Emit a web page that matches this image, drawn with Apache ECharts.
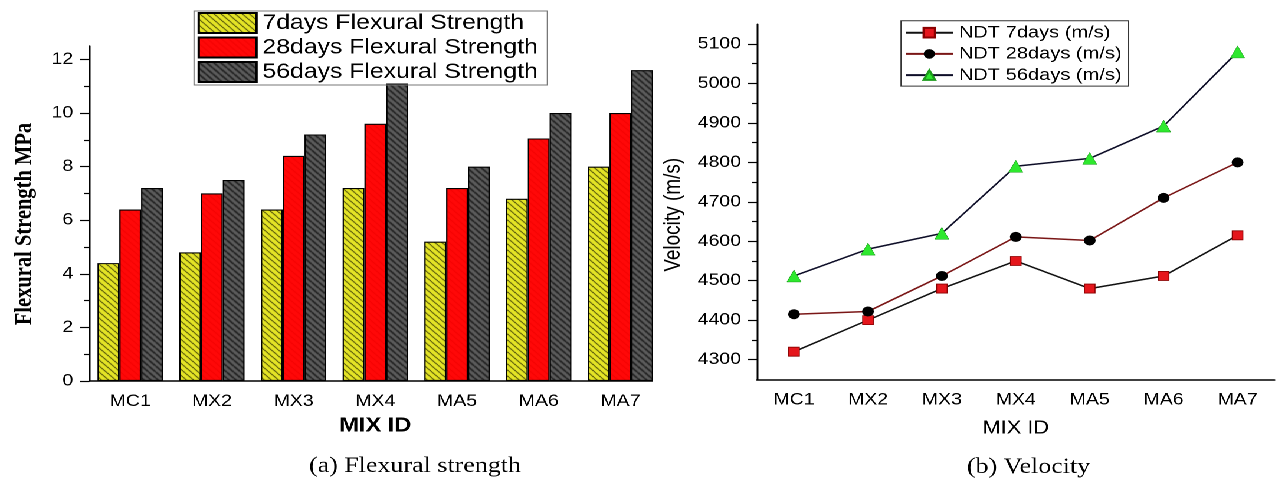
<!DOCTYPE html>
<html>
<head>
<meta charset="utf-8">
<title>Flexural strength and velocity</title>
<script src="https://cdn.jsdelivr.net/npm/echarts@6/dist/echarts.min.js"></script>
<style>
    html, body {
        margin: 0;
        padding: 0;
        background: #fff;
    }
    /* the source figure is stretched sideways, so the whole stage is too */
    #stage {
        position: absolute;
        left: 0;
        top: 0;
        width: 1086.5px;
        height: 483px;
        transform: scaleX(1.18);
        transform-origin: 0 0;
    }
    #leftClip {
        position: absolute;
        left: 0;
        top: 0;
        width: 553.4px;
        height: 483px;
        overflow: hidden;
    }
    #leftChart {
        width: 600px;
        height: 483px;
    }
    #rightChart {
        position: absolute;
        left: 553.4px;
        top: 0;
        width: 533px;
        height: 483px;
    }
</style>
</head>
<body>
<div id="stage">
    <div id="leftClip"><div id="leftChart"></div></div>
    <div id="rightChart"></div>
</div>
<script>
// =====================================
// Data
// =====================================

const mixIds = ["MC1", "MX2", "MX3", "MX4", "MA5", "MA6", "MA7"];

const flex7 = [4.4, 4.8, 6.4, 7.2, 5.2, 6.8, 8.0];
const flex28 = [6.4, 7.0, 8.4, 9.6, 7.2, 9.05, 10.0];
const flex56 = [7.2, 7.5, 9.2, 11.1, 8.0, 10.0, 11.6];

const flexTicks = [0, 2, 4, 6, 8, 10, 12];
const flexMinorTicks = [1, 3, 5, 7, 9, 11];

const ndt7 = [4320, 4400, 4480, 4550, 4480, 4512, 4615];
const ndt28 = [4415, 4422, 4512, 4611, 4602, 4710, 4800];
const ndt56 = [4512, 4580, 4620, 4790, 4810, 4892, 5080];

const velTicks = [4300, 4400, 4500, 4600, 4700, 4800, 4900, 5000, 5100];
const velMinorTicks = [4350, 4450, 4550, 4650, 4750, 4850, 4950, 5050];

// =====================================
// Helpers
// =====================================

const SANS = "'Liberation Sans', Arial, sans-serif";
const SERIF = "'Liberation Serif', 'Times New Roman', serif";

function hatch(bg, line, step, lw) {
    const c = document.createElement("canvas");
    c.width = step;
    c.height = step;
    const g = c.getContext("2d");
    g.fillStyle = bg;
    g.fillRect(0, 0, step, step);
    g.strokeStyle = line;
    g.lineWidth = lw;
    g.beginPath();
    [-step, 0, step].forEach(o => {
        g.moveTo(o, 0);
        g.lineTo(o + step, step);
    });
    g.stroke();
    return { image: c, repeat: "repeat" };
}

const axisBlack = { color: "#000", width: 1.5 };
const tickBlack = { color: "#000", width: 1.2 };
const plainNumber = v => String(v);

// =====================================
// (a) Flexural strength
// =====================================

const leftChart = echarts.init(
    document.getElementById("leftChart"),
    null,
    { devicePixelRatio: 2 }
);

function barSeries(name, data, fill) {
    return {
        name: name,
        type: "bar",
        data: data,
        barGap: "0%",
        barCategoryGap: "20%",
        itemStyle: {
            color: fill,
            borderColor: "#000",
            borderWidth: 1.1
        }
    };
}

leftChart.setOption({
    animation: false,
    grid: { left: 75.7, top: 46, width: 484.7, height: 335 },
    legend: {
        orient: "vertical",
        left: 164.4,
        top: 11,
        padding: [1, 8, 2, 3],
        borderColor: "#777",
        borderWidth: 1,
        icon: "rect",
        itemWidth: 49,
        itemHeight: 20,
        itemGap: 2.5,
        selectedMode: false,
        textStyle: {
            color: "#000",
            fontFamily: SANS,
            fontSize: 21,
            lineHeight: 20
        }
    },
    xAxis: [{
        type: "category",
        data: mixIds,
        axisLine: { lineStyle: axisBlack },
        axisTick: { alignWithLabel: true, length: 8, lineStyle: tickBlack },
        axisLabel: { color: "#000", fontFamily: SANS, fontSize: 16.5, margin: 12 },
        name: "MIX ID",
        nameLocation: "middle",
        nameGap: 35,
        nameTextStyle: { color: "#000", fontFamily: SANS, fontSize: 20, fontWeight: "bold" }
    }, {
        type: "category",
        data: mixIds,
        position: "bottom",
        axisLine: { show: false },
        axisTick: { length: 4.5, lineStyle: tickBlack },
        axisLabel: { show: false }
    }],
    yAxis: [{
        type: "value",
        min: 0,
        max: 12.5,
        splitLine: { show: false },
        axisLine: { show: true, lineStyle: axisBlack },
        axisTick: { show: true, length: 8, lineStyle: tickBlack, customValues: flexTicks },
        axisLabel: {
            color: "#000",
            fontFamily: SANS,
            fontSize: 16.5,
            margin: 13.6,
            customValues: flexTicks,
            formatter: plainNumber
        },
        name: "Flexural Strength MPa",
        nameLocation: "middle",
        nameGap: 44.5,
        nameTextStyle: {
            color: "#000",
            fontFamily: SERIF,
            fontSize: 20.5,
            fontWeight: "bold",
            padding: [0, 21, 0, 0]
        }
    }, {
        type: "value",
        min: 0,
        max: 12.5,
        position: "left",
        splitLine: { show: false },
        axisLine: { show: false },
        axisTick: { show: true, length: 4.5, lineStyle: tickBlack, customValues: flexMinorTicks },
        axisLabel: { show: false }
    }],
    series: [
        barSeries("7days Flexural Strength", flex7, hatch("#e4e426", "#222200", 6, 1.0)),
        barSeries("28days Flexural Strength", flex28, hatch("#ff0808", "#ee0000", 6, 0.8)),
        barSeries("56days Flexural Strength", flex56, hatch("#5c5c5c", "#1a1a1a", 6, 1.4))
    ],
    graphic: [{
        type: "text",
        x: 351.7,
        y: 466,
        style: {
            text: "(a) Flexural strength",
            font: "22px " + SERIF,
            fill: "#000",
            align: "center",
            verticalAlign: "middle"
        }
    }]
});

// =====================================
// (b) Velocity
// =====================================

const rightChart = echarts.init(
    document.getElementById("rightChart"),
    null,
    { devicePixelRatio: 2 }
);

rightChart.setOption({
    animation: false,
    grid: { left: 88.6, top: 24.3, width: 438.5, height: 355 },
    legend: {
        orient: "vertical",
        left: 210.6,
        top: 20.7,
        padding: [3, 6, 2, 3],
        borderColor: "#333",
        borderWidth: 1,
        itemWidth: 40,
        itemHeight: 12,
        itemGap: 3.2,
        selectedMode: false,
        textStyle: {
            color: "#000",
            fontFamily: SANS,
            fontSize: 17,
            lineHeight: 18
        }
    },
    xAxis: [{
        type: "category",
        data: mixIds,
        axisLine: { lineStyle: axisBlack },
        axisTick: { alignWithLabel: true, length: 8, lineStyle: tickBlack },
        axisLabel: { color: "#000", fontFamily: SANS, fontSize: 16.5, margin: 12 },
        name: "MIX ID",
        nameLocation: "middle",
        nameGap: 39.4,
        nameTextStyle: { color: "#000", fontFamily: SANS, fontSize: 18.5 }
    }, {
        type: "category",
        data: mixIds,
        position: "bottom",
        axisLine: { show: false },
        axisTick: { length: 4.5, lineStyle: tickBlack },
        axisLabel: { show: false }
    }],
    yAxis: [{
        type: "value",
        min: 4250,
        max: 5150,
        splitLine: { show: false },
        axisLine: { show: true, lineStyle: axisBlack },
        axisTick: { show: true, length: 8, lineStyle: tickBlack, customValues: velTicks },
        axisLabel: {
            color: "#000",
            fontFamily: SANS,
            fontSize: 16.5,
            margin: 13.6,
            customValues: velTicks,
            formatter: plainNumber
        },
        name: "Velocity (m/s)",
        nameLocation: "middle",
        nameGap: 55,
        nameTextStyle: {
            color: "#000",
            fontFamily: SANS,
            fontSize: 19,
            padding: [0, 26, 0, 0]
        }
    }, {
        type: "value",
        min: 4250,
        max: 5150,
        position: "left",
        splitLine: { show: false },
        axisLine: { show: false },
        axisTick: { show: true, length: 4.5, lineStyle: tickBlack, customValues: velMinorTicks },
        axisLabel: { show: false }
    }],
    series: [{
        name: "NDT 7days (m/s)",
        type: "line",
        data: ndt7,
        symbol: "rect",
        symbolSize: 9,
        itemStyle: { color: "#e5161c", borderColor: "#8a0000", borderWidth: 0.8 },
        lineStyle: { color: "#111", width: 1.5 }
    }, {
        name: "NDT 28days (m/s)",
        type: "line",
        data: ndt28,
        symbol: "circle",
        symbolSize: 10,
        itemStyle: { color: "#000" },
        lineStyle: { color: "#7a1616", width: 1.5 }
    }, {
        name: "NDT 56days (m/s)",
        type: "line",
        data: ndt56,
        symbol: "triangle",
        symbolSize: 12,
        itemStyle: { color: "#2ee82e", borderColor: "#1c9c1c", borderWidth: 0.5 },
        lineStyle: { color: "#0e0e28", width: 1.5 }
    }],
    graphic: [{
        type: "text",
        x: 318.6,
        y: 467,
        style: {
            text: "(b) Velocity",
            font: "22px " + SERIF,
            fill: "#000",
            align: "center",
            verticalAlign: "middle"
        }
    }]
});
</script>
</body>
</html>
